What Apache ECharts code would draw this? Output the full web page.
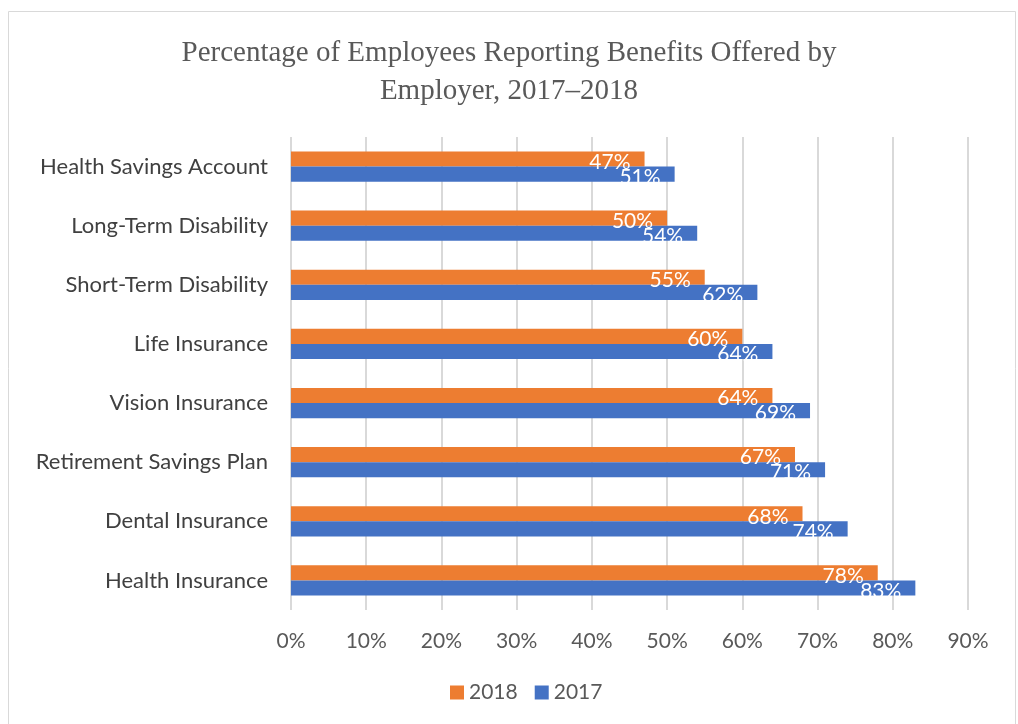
<!DOCTYPE html>
<html>
<head>
<meta charset="utf-8">
<script src="https://cdn.jsdelivr.net/npm/echarts@6/dist/echarts.min.js"></script>
<style>html,body{margin:0;padding:0;background:#fff;}#c{width:1018px;height:724px;}</style>
</head>
<body>
<div id="c"></div>
<script>
const categories = ["Health Savings Account","Long-Term Disability","Short-Term Disability","Life Insurance","Vision Insurance","Retirement Savings Plan","Dental Insurance","Health Insurance"];
const values2018 = [47,50,55,60,64,67,68,78];
const values2017 = [51,54,62,64,69,71,74,83];
const xTicks = [0,10,20,30,40,50,60,70,80,90];
const titleText = "Percentage of Employees Reporting Benefits Offered by\nEmployer, 2017\u20132018";

const chart = echarts.init(document.getElementById('c'), null, {renderer:'canvas'});
const labelFont = 'Lato, "Liberation Sans", sans-serif';
const barLabel = {
  show: true, position: 'insideRight', distance: 0, offset: [-14, 3],
  formatter: '{c}%', color: '#ffffff', fontSize: 21, fontFamily: labelFont
};
chart.setOption({
  animation: false,
  graphic: [{type:'rect', shape:{x:8.5,y:11.5,width:1007,height:720}, style:{fill:'none', stroke:'#d9d9d9', lineWidth:1}}],
  title: {
    text: titleText, left: 'center', top: 29,
    textStyle: {fontFamily: '"Liberation Serif", "DejaVu Serif", serif', fontWeight: 'normal', fontSize: 29, color: '#595959', lineHeight: 38}
  },
  legend: {
    bottom: 16, left: 445, itemWidth: 14, itemHeight: 14, itemGap: 17,
    icon: 'rect',
    textStyle: {fontFamily: labelFont, fontSize: 21, color: '#595959'},
    data: ['2018','2017']
  },
  grid: {left: 291, right: 50, top: 137, bottom: 114, containLabel: false},
  xAxis: {
    type: 'value', min: 0, max: 90, interval: 10,
    axisLine: {show: false}, axisTick: {show: false},
    splitLine: {show: true, lineStyle: {color: '#d9d9d9', width: 2}},
    axisLabel: {formatter: v => v + '%', fontFamily: labelFont, fontSize: 21, color: '#595959', margin: 21, customValues: xTicks}
  },
  yAxis: {
    type: 'category', data: categories, inverse: true,
    axisLine: {show: false}, axisTick: {show: false},
    axisLabel: {fontFamily: labelFont, fontSize: 22, color: '#404040', margin: 23}
  },
  series: [
    {name: '2018', type: 'bar', data: values2018, itemStyle: {color: '#ED7D31'}, barGap: '0%', barCategoryGap: '49%', label: barLabel},
    {name: '2017', type: 'bar', data: values2017, itemStyle: {color: '#4472C4'}, barGap: '0%', barCategoryGap: '49%', label: barLabel}
  ]
});
</script>
</body>
</html>
